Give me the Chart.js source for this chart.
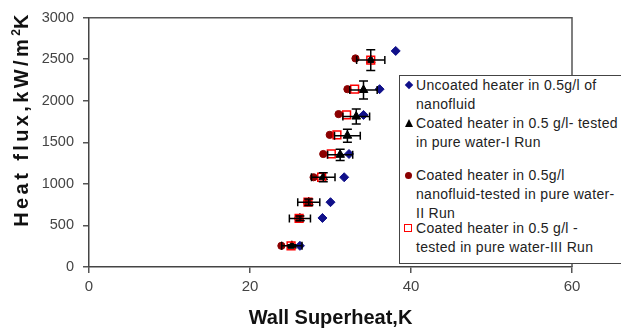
<!DOCTYPE html>
<html>
<head>
<meta charset="utf-8">
<script src="https://cdn.jsdelivr.net/npm/chart.js@4"></script>
<style>
  body { margin: 0; background: #fff; }
  #wrap { position: relative; width: 621px; height: 332px; overflow: hidden; }
  #ytitle {
    position: absolute; left: -98px; top: 107px; width: 240px; height: 24px;
    line-height: 24px; text-align: center; white-space: nowrap;
    transform: rotate(-90deg); transform-origin: 50% 50%;
    font: bold 20px "Liberation Sans", Arial, sans-serif; letter-spacing: 3.4px; color: #111;
  }
  #ytitle sup { font-size: 12px; vertical-align: 8px; line-height: 0; letter-spacing: 0; }
  #legend {
    position: absolute; left: 399px; top: 75px; width: 240px; height: 189px;
    border: 1.5px solid #444; background: #fff; box-sizing: border-box;
    font: 14px "Liberation Sans", Arial, sans-serif; letter-spacing: 0.3px; color: #222;
  }
  .item { position: absolute; left: 16px; line-height: 19px; white-space: nowrap; }
  .mk { position: absolute; }
</style>
</head>
<body>
<div id="wrap">
  <canvas id="chart"></canvas>
  <div id="ytitle">Heat flux,kW/m<sup>2</sup>K</div>
  <div id="legend"></div>
</div>
<script>
// данные
const uncoatedX = [38.1, 36.1, 34.1, 32.3, 31.7, 30.0, 29.0, 26.2];
const uncoatedY = [2600, 2140, 1830, 1360, 1080, 780, 590, 255];

const run1X = [35.0, 34.1, 33.2, 32.1, 31.2, 29.1, 27.3, 26.2, 25.2];
const run1Y = [2490, 2130, 1810, 1580, 1350, 1080, 780, 585, 255];
const run1ErrX = [1.75, 1.7, 1.66, 1.6, 1.56, 1.46, 1.37, 1.31, 1.26];
const run1ErrY = [125, 107, 90, 79, 68, 54, 39, 29, 13];

const run2X = [33.1, 32.1, 31.0, 29.9, 29.1, 27.9, 27.1, 26.0, 23.9];
const run2Y = [2510, 2140, 1840, 1590, 1360, 1080, 780, 585, 255];

const run3X = [35.0, 33.0, 32.0, 30.8, 30.1, 28.9, 27.2, 26.1, 25.1];
const run3Y = [2490, 2140, 1830, 1590, 1360, 1080, 780, 585, 255];

const xTicks = [0, 20, 40, 60];
const yTicks = [0, 500, 1000, 1500, 2000, 2500, 3000];

const legendLabels = [
    ['Uncoated heater in 0.5g/l of', 'nanofluid'],
    ['Coated heater in 0.5 g/l- tested', 'in pure water-I Run'],
    ['Coated heater in 0.5g/l', 'nanofluid-tested in pure water-', 'II Run'],
    ['Coated heater in 0.5 g/l -', 'tested in pure water-III Run']
];

function toPoints(xs, ys) {
    return xs.map((x, i) => ({ x: x, y: ys[i] }));
}

// легенда (html)
const legendTops = [0, 38, 90, 143];
const legendMarks = [
    '<span class="mk" style="left:-10px;top:6px;width:6px;height:6px;background:#10108a;transform:rotate(45deg)"></span>',
    '<span class="mk" style="left:-11px;top:5px;width:0;height:0;border-left:4px solid transparent;border-right:4px solid transparent;border-bottom:8px solid #000"></span>',
    '<span class="mk" style="left:-11px;top:6px;width:7px;height:7px;border-radius:50%;background:#8b0000"></span>',
    '<span class="mk" style="left:-12px;top:5px;width:6px;height:6px;border:1.2px solid #f00;background:#fff"></span>'
];
document.getElementById('legend').innerHTML = legendLabels.map((lines, i) =>
    `<div class="item" style="top:${legendTops[i]}px">${legendMarks[i]}${lines.join('<br>')}</div>`
).join('');

// рамка сверху и справа
const frame = {
    id: 'frame',
    afterDraw(chart) {
        const { ctx, chartArea: a } = chart;
        ctx.save();
        ctx.strokeStyle = '#555';
        ctx.lineWidth = 1.5;
        ctx.beginPath();
        ctx.moveTo(a.left, a.top);
        ctx.lineTo(a.right, a.top);
        ctx.lineTo(a.right, a.bottom);
        ctx.stroke();
        ctx.restore();
    }
};

// погрешности для Run I
const errorBars = {
    id: 'errorBars',
    afterDatasetsDraw(chart) {
        const { ctx, scales: { x, y } } = chart;
        ctx.save();
        ctx.strokeStyle = '#000';
        ctx.lineWidth = 1.5;
        run1X.forEach((v, i) => {
            const px = x.getPixelForValue(v);
            const py = y.getPixelForValue(run1Y[i]);
            const x1 = x.getPixelForValue(v - run1ErrX[i]);
            const x2 = x.getPixelForValue(v + run1ErrX[i]);
            const y1 = y.getPixelForValue(run1Y[i] - run1ErrY[i]);
            const y2 = y.getPixelForValue(run1Y[i] + run1ErrY[i]);
            ctx.beginPath();
            ctx.moveTo(x1, py); ctx.lineTo(x2, py);
            ctx.moveTo(x1, py - 4); ctx.lineTo(x1, py + 4);
            ctx.moveTo(x2, py - 4); ctx.lineTo(x2, py + 4);
            ctx.moveTo(px, y1); ctx.lineTo(px, y2);
            ctx.moveTo(px - 4.5, y1); ctx.lineTo(px + 4.5, y1);
            ctx.moveTo(px - 4.5, y2); ctx.lineTo(px + 4.5, y2);
            ctx.stroke();
        });
        ctx.restore();
    }
};

const tickFont = { family: '"Liberation Sans", Arial, sans-serif', size: 15 };

new Chart(document.getElementById('chart'), {
    type: 'scatter',
    data: {
        datasets: [
            {
                label: 'Run III', data: toPoints(run3X, run3Y), order: 1,
                pointStyle: 'rect', pointRadius: 5.5, borderColor: '#ff0000',
                backgroundColor: 'rgba(0,0,0,0)', borderWidth: 1.5
            },
            {
                label: 'Run II', data: toPoints(run2X, run2Y), order: 2,
                pointStyle: 'circle', pointRadius: 3.6, borderColor: '#8b0000',
                backgroundColor: '#8b0000', borderWidth: 1
            },
            {
                label: 'Run I', data: toPoints(run1X, run1Y), order: 3,
                pointStyle: 'triangle', pointRadius: 5, borderColor: '#000',
                backgroundColor: '#000', borderWidth: 1
            },
            {
                label: 'Uncoated', data: toPoints(uncoatedX, uncoatedY), order: 4,
                pointStyle: 'rectRot', pointRadius: 4.5, borderColor: '#10108a',
                backgroundColor: '#10108a', borderWidth: 1
            }
        ]
    },
    options: {
        responsive: true,
        maintainAspectRatio: false,
        animation: false,
        layout: { padding: { left: 0, right: 49, top: 16, bottom: 0 } },
        plugins: { legend: { display: false }, tooltip: { enabled: false } },
        scales: {
            x: {
                type: 'linear', min: 0, max: 60,
                afterBuildTicks: s => { s.ticks = xTicks.map(v => ({ value: v })); },
                afterFit: s => { s.height = 65; },
                grid: { drawOnChartArea: false, drawTicks: true, tickLength: 6, color: '#555', lineWidth: 1.5 },
                border: { color: '#444', width: 1.5 },
                ticks: { font: tickFont, color: '#444', padding: 5, maxRotation: 0, callback: v => String(v) },
                title: {
                    display: true, text: 'Wall Superheat,K', color: '#111',
                    font: { family: '"Liberation Sans", Arial, sans-serif', size: 20, weight: 'bold' },
                    padding: { top: 0, bottom: 2 }
                }
            },
            y: {
                type: 'linear', min: 0, max: 3000,
                afterBuildTicks: s => { s.ticks = yTicks.map(v => ({ value: v })); },
                afterFit: s => { s.width = 89; },
                grid: { drawOnChartArea: false, drawTicks: true, tickLength: 6, color: '#555', lineWidth: 1.5 },
                border: { color: '#444', width: 1.5 },
                ticks: {
                    font: { family: '"Liberation Sans", Arial, sans-serif', size: 14.5 },
                    color: '#444', padding: 9, callback: v => String(v)
                }
            }
        }
    },
    plugins: [frame, errorBars]
});
</script>
</body>
</html>
